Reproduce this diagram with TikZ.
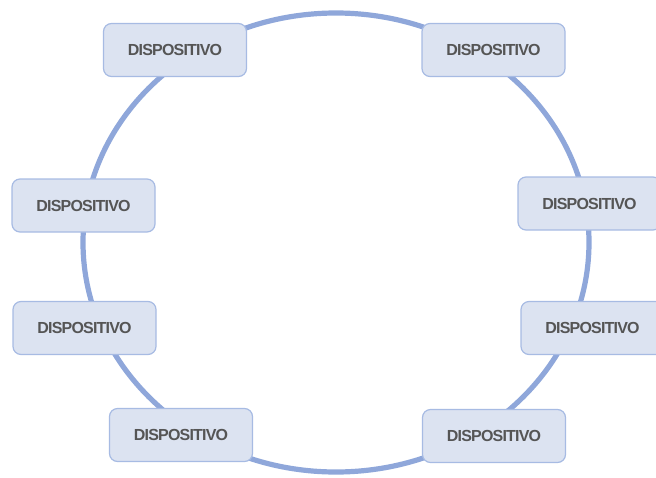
\documentclass[tikz,border=0pt]{standalone}
\usepackage{fontspec}
\setmainfont{Liberation Sans}
\newfontfamily\devicefont[LetterSpace=-5]{Liberation Sans}
\definecolor{ringblue}{HTML}{8FA7DA}
\definecolor{boxfill}{HTML}{DCE3F1}
\definecolor{boxedge}{HTML}{A7BBE3}
\definecolor{labelgray}{HTML}{555555}
\tikzset{
  device/.style={draw=boxedge, line width=1.2pt, fill=boxfill, rounded corners=8pt,
    minimum width=143pt, minimum height=53pt, inner sep=0pt,
    text=labelgray, font=\devicefont\fontsize{16}{18}\selectfont\bfseries},
  ring/.style={draw=ringblue, line width=5.2pt}
}
\begin{document}
\begin{tikzpicture}[x=1pt, y=-1pt]
  \useasboundingbox (0,0) rectangle (656,477);
  \clip (0,0) rectangle (656,477);
  % ring joining all devices
  \draw[ring] (336,242.5) ellipse [x radius=253, y radius=229.5];
  % devices around the ring
  \node[device] (d1) at (175,50)    {DISPOSITIVO};
  \node[device] (d2) at (493.5,50)  {DISPOSITIVO};
  \node[device] (d3) at (83.5,205.5){DISPOSITIVO};
  \node[device] (d4) at (589.5,203.5){DISPOSITIVO};
  \node[device] (d5) at (84.5,328)  {DISPOSITIVO};
  \node[device] (d6) at (592.5,328) {DISPOSITIVO};
  \node[device] (d7) at (181,435)   {DISPOSITIVO};
  \node[device] (d8) at (494,436)   {DISPOSITIVO};
\end{tikzpicture}
\end{document}
